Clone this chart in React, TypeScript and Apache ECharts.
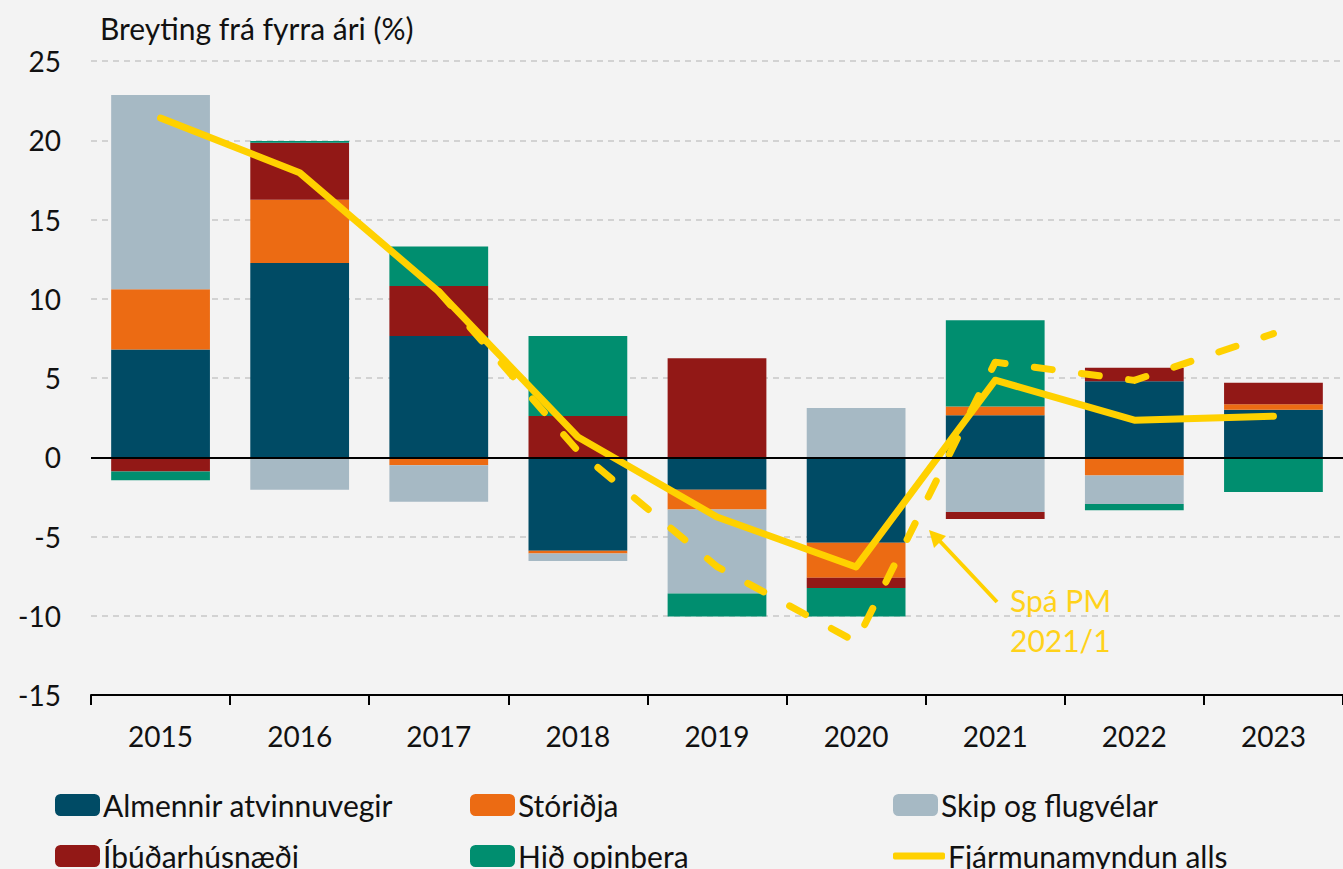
import React, { useEffect, useRef } from "react";
import * as echarts from "echarts";

const categories = ["2015", "2016", "2017", "2018", "2019", "2020", "2021", "2022", "2023"];
const almennir = [6.8, 12.25, 7.65, -5.9, -2.05, -5.4, 2.65, 4.8, 3.0];
const storidja = [3.8, 4.0, -0.5, -0.17, -1.25, -2.2, 0.55, -1.15, 0.35];
const skip = [12.25, -2.05, -2.3, -0.47, -5.3, 3.1, -3.45, -1.8, 0];
const ibudar = [-0.9, 3.6, 3.15, 2.6, 6.25, -0.65, -0.45, 0.85, 1.35];
const opinbera = [-0.55, 0.1, 2.5, 5.05, -1.45, -1.8, 5.45, -0.4, -2.2];
const fjarmunamyndun = [21.4, 17.95, 10.45, 1.28, -3.77, -6.92, 4.86, 2.34, 2.59];
const spaPM = [null, null, 10.45, 0.4, -6.9, -11.65, 6.0, 4.85, 7.8];

const yTicks = { min: -15, max: 25, interval: 5 };

const C = {
  blue: "#004B65",
  orange: "#EC6B13",
  gray: "#A6B9C4",
  red: "#921816",
  green: "#008E6F",
  yellow: "#FFD100",
  bg: "#F3F3F3",
};

const FONT = "Lato, 'Open Sans', sans-serif";

export default function App() {
  const ref = useRef<HTMLDivElement>(null);
  useEffect(() => {
    document.body.style.margin = "0";
    const chart = echarts.init(ref.current!, null, { renderer: "svg" });
    const barBase = {
      type: "bar",
      stack: "total",
      barWidth: "71%",
    };
    const legendText = { fontFamily: FONT, fontSize: 30, color: "#111" };
    const mkLegend = (name: string, left: number, top: number, extra: any = {}) => ({
      data: [name],
      left,
      top,
      padding: 0,
      itemWidth: 45,
      itemHeight: 22,
      itemGap: 4,
      textStyle: { ...legendText, padding: [0, 0, 0, -2] },
      selectedMode: false,
      ...extra,
    });
    chart.setOption({
      animation: false,
      backgroundColor: C.bg,
      textStyle: { fontFamily: FONT },
      title: {
        text: "Breyting frá fyrra ári (%)",
        left: 100,
        top: 13,
        padding: 0,
        textStyle: { fontFamily: FONT, fontSize: 30, fontWeight: "normal", color: "#111" },
      },
      grid: { left: 91, right: 0, top: 61, bottom: 174 },
      xAxis: {
        type: "category",
        data: categories,
        position: "bottom",
        axisLine: { onZero: false, lineStyle: { color: "#000", width: 2 } },
        axisTick: { show: true, alignWithLabel: false, length: 10, lineStyle: { color: "#000", width: 2 } },
        axisLabel: { fontFamily: FONT, fontSize: 28, color: "#111", margin: 27 },
      },
      yAxis: {
        type: "value",
        min: yTicks.min,
        max: yTicks.max,
        interval: yTicks.interval,
        axisLine: { show: false },
        axisTick: { show: false },
        axisLabel: { fontFamily: FONT, fontSize: 28, color: "#111", margin: 30 },
        splitLine: { lineStyle: { color: "#C8C8C8", type: [6, 5], width: 1.5 } },
      },
      legend: [
        mkLegend("Almennir atvinnuvegir", 55, 790),
        mkLegend("Stóriðja", 470, 790),
        mkLegend("Skip og flugvélar", 893, 790),
        mkLegend("Íbúðarhúsnæði", 55, 841),
        mkLegend("Hið opinbera", 470, 841),
        mkLegend("Fjármunamyndun alls", 893, 841, {
          itemWidth: 52,
          itemHeight: 7,
          data: [{ name: "Fjármunamyndun alls", icon: "roundRect" }],
        }),
      ],
      series: [
        {
          ...barBase,
          name: "Almennir atvinnuvegir",
          data: almennir,
          itemStyle: { color: C.blue },
          markLine: {
            silent: true,
            symbol: "none",
            label: { show: false },
            lineStyle: { color: "#000", width: 2, type: "solid" },
            data: [{ yAxis: 0 }],
            z: 10,
          },
        },
        { ...barBase, name: "Stóriðja", data: storidja, itemStyle: { color: C.orange } },
        { ...barBase, name: "Skip og flugvélar", data: skip, itemStyle: { color: C.gray } },
        { ...barBase, name: "Íbúðarhúsnæði", data: ibudar, itemStyle: { color: C.red } },
        { ...barBase, name: "Hið opinbera", data: opinbera, itemStyle: { color: C.green } },
        {
          type: "line",
          name: "Spá PM 2021/1",
          data: spaPM,
          symbol: "none",
          z: 5,
          lineStyle: { color: C.yellow, width: 7, type: [18, 29.5], cap: "round", join: "round" },
          itemStyle: { color: C.yellow },
        },
        {
          type: "line",
          name: "Fjármunamyndun alls",
          data: fjarmunamyndun,
          symbol: "none",
          z: 6,
          lineStyle: { color: C.yellow, width: 7, cap: "round", join: "round" },
          itemStyle: { color: C.yellow },
        },
      ],
      graphic: [
        {
          type: "line",
          shape: { x1: 997, y1: 602, x2: 936, y2: 537 },
          style: { stroke: C.yellow, lineWidth: 4 },
          z: 20,
        },
        {
          type: "polygon",
          shape: { points: [[929, 530], [946, 536], [934, 548]] },
          style: { fill: C.yellow },
          z: 20,
        },
        {
          type: "text",
          left: 1010,
          top: 580,
          style: {
            text: "Spá PM\n2021/1",
            fill: "#FFD21A",
            font: `30px ${FONT}`,
            lineHeight: 40,
          },
          z: 20,
        },
      ],
    });
    return () => chart.dispose();
  }, []);
  return (
    <div
      ref={ref}
      style={{ position: "absolute", left: 0, top: 0, width: 1343, height: 869 }}
    />
  );
}
